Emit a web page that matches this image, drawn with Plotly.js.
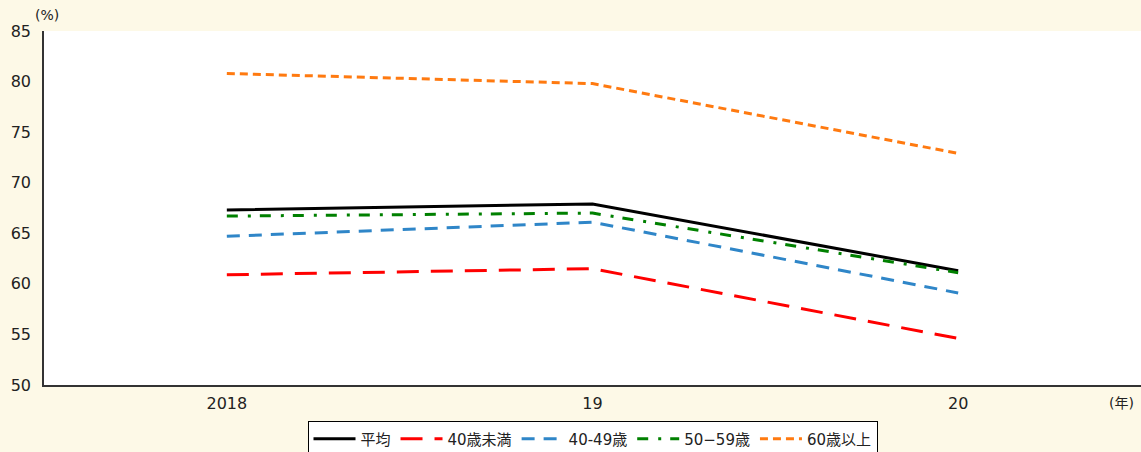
<!DOCTYPE html>
<html><head><meta charset="utf-8">
<script src="https://cdn.plot.ly/plotly-3.0.1.min.js"></script>
<style>html,body{margin:0;padding:0;background:#fdf9e7;}</style>
</head><body>
<div id="chart" style="width:1141px;height:452px;"></div>
<script>
const years = ["2018", "19", "20"];
const avg = [67.3, 67.9, 61.3];
const under40 = [60.9, 61.5, 54.6];
const age40s = [64.7, 66.1, 59.1];
const age50s = [66.7, 67.0, 61.1];
const over60 = [80.8, 79.8, 72.9];
const names = ["平均", "40歳未満", "40-49歳", "50−59歳", "60歳以上"];

const font = "'DejaVu Sans', 'Noto Sans CJK JP', sans-serif";
const mk = (y, name, color, dash) => ({
  x: years, y: y, name: name, type: 'scatter', mode: 'lines',
  line: {color: color, width: 3, dash: dash}
});
const data = [
  mk(avg, names[0], '#000000', 'solid'),
  mk(under40, names[1], '#ff0000', '22px,12px'),
  mk(age40s, names[2], '#2f86c8', '13px,9px'),
  mk(age50s, names[3], '#008000', '11px,10px,3px,9px'),
  mk(over60, names[4], '#ff7a10', '8px,5px')
];
const layout = {
  width: 1141, height: 452,
  paper_bgcolor: '#fdf9e7', plot_bgcolor: '#ffffff',
  margin: {l: 44, r: 0, t: 31, b: 67},
  font: {family: font, size: 15, color: '#222'},
  showlegend: true,
  legend: {orientation: 'h', x: 0.5, xanchor: 'center', xref: 'paper',
    y: 0.029, yanchor: 'middle', yref: 'container',
    bordercolor: '#000', borderwidth: 1, bgcolor: '#ffffff', font: {size: 15, family: font},
    itemwidth: 42, tracegroupgap: 0},
  xaxis: {type: 'category', range: [-0.5, 2.5], showgrid: false, zeroline: false, automargin: false,
    showline: true, linecolor: '#333', linewidth: 1.5, ticks: '', tickfont: {size: 16}, ticklabelstandoff: 3},
  yaxis: {range: [50, 85], dtick: 5, showgrid: false, zeroline: false, automargin: false,
    showline: true, linecolor: '#333', linewidth: 1.5, ticks: '', tickfont: {size: 16}, ticklabelstandoff: 8},
  annotations: [
    {text: '(%)', xref: 'paper', yref: 'paper', x: 0.003, y: 1.045, xanchor: 'center', yanchor: 'middle', showarrow: false, font: {size: 14}},
    {text: '(年)', xref: 'paper', yref: 'paper', x: 0.982, y: -0.05, xanchor: 'center', yanchor: 'middle', showarrow: false, font: {size: 14}}
  ]
};
Plotly.newPlot('chart', data, layout, {displayModeBar: false});
</script>
</body></html>
